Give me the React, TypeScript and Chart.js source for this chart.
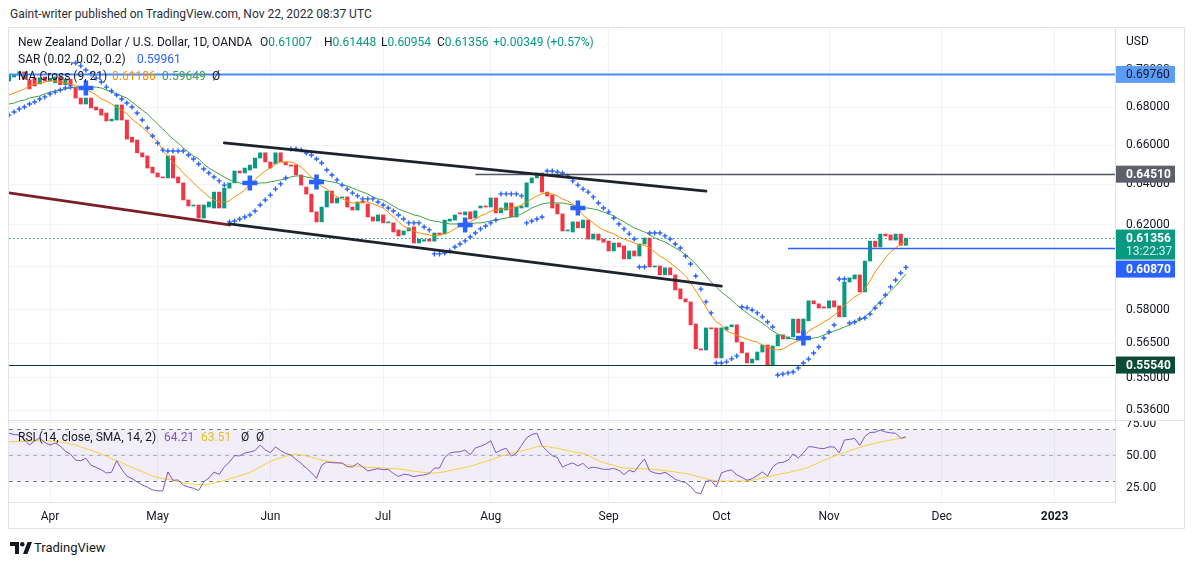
import React, { useEffect, useRef } from "react";
import { Chart, registerables } from "chart.js";

Chart.register(...registerables);

const FONT = "Roboto, 'Noto Sans', 'DejaVu Sans', sans-serif";
const TEXT = "#131722";
const GRID = "#f0f3fa";
const BORDER = "#e0e3eb";
const UP = "#089981";
const DOWN = "#f23645";

// Bar index 0 = 1 Apr 2022 (daily bars, weekdays). First visible bar = 22 Mar 2022.
const firstBar = -8;

const opens = [
  0.6940, 0.6962, 0.6972, 0.6990, 0.6946, 0.6957, 0.6924, 0.6962, 0.6940, 0.6930,
  0.6962, 0.6920, 0.6950, 0.6905, 0.6848, 0.6816, 0.6848, 0.6800, 0.6789, 0.6768,
  0.6726, 0.6731, 0.6811, 0.6731, 0.6641, 0.6626, 0.6560, 0.6544, 0.6487, 0.6457,
  0.6437, 0.6432, 0.6544, 0.6437, 0.6407, 0.6322, 0.6292, 0.6297, 0.6233, 0.6287,
  0.6282, 0.6361, 0.6282, 0.6381, 0.6407, 0.6467, 0.6457, 0.6472, 0.6482, 0.6533,
  0.6560, 0.6513, 0.6503, 0.6560, 0.6513, 0.6498, 0.6498, 0.6447, 0.6386, 0.6351,
  0.6263, 0.6214, 0.6287, 0.6366, 0.6307, 0.6332, 0.6337, 0.6287, 0.6272, 0.6317,
  0.6302, 0.6238, 0.6218, 0.6248, 0.6209, 0.6209, 0.6175, 0.6151, 0.6170, 0.6190,
  0.6112, 0.6121, 0.6131, 0.6121, 0.6160, 0.6155, 0.6218, 0.6223, 0.6258, 0.6248,
  0.6263, 0.6233, 0.6282, 0.6292, 0.6287, 0.6332, 0.6258, 0.6272, 0.6307, 0.6238,
  0.6282, 0.6287, 0.6407, 0.6432, 0.6457, 0.6361, 0.6346, 0.6302, 0.6253, 0.6170,
  0.6165, 0.6214, 0.6185, 0.6223, 0.6131, 0.6155, 0.6131, 0.6121, 0.6074, 0.6112,
  0.6098, 0.6036, 0.6074, 0.6050, 0.6107, 0.6136, 0.5998, 0.6003, 0.5961, 0.5994,
  0.5961, 0.5896, 0.5850, 0.5836, 0.5736, 0.5625, 0.5620, 0.5718, 0.5718, 0.5585,
  0.5709, 0.5723, 0.5732, 0.5655, 0.5607, 0.5563, 0.5576, 0.5611, 0.5642, 0.5554,
  0.5638, 0.5687, 0.5669, 0.5678, 0.5758, 0.5692, 0.5750, 0.5841, 0.5827, 0.5813,
  0.5808, 0.5841, 0.5818, 0.5768, 0.5928, 0.5942, 0.5961, 0.5882, 0.6026, 0.6121,
  0.6093, 0.6155, 0.6151, 0.6126, 0.6155, 0.61007,
];

const closes = [
  0.6975, 0.6972, 0.6990, 0.6950, 0.6897, 0.6913, 0.6957, 0.6940, 0.6955, 0.6962,
  0.6920, 0.6950, 0.6915, 0.6848, 0.6816, 0.6848, 0.6795, 0.6784, 0.6757, 0.6726,
  0.6736, 0.6811, 0.6731, 0.6631, 0.6615, 0.6560, 0.6539, 0.6482, 0.6457, 0.6437,
  0.6432, 0.6544, 0.6432, 0.6407, 0.6322, 0.6292, 0.6297, 0.6233, 0.6297, 0.6312,
  0.6361, 0.6282, 0.6381, 0.6407, 0.6467, 0.6457, 0.6482, 0.6497, 0.6533, 0.6560,
  0.6513, 0.6482, 0.6560, 0.6513, 0.6498, 0.6492, 0.6447, 0.6396, 0.6351, 0.6263,
  0.6214, 0.6287, 0.6366, 0.6307, 0.6332, 0.6337, 0.6287, 0.6272, 0.6312, 0.6307,
  0.6238, 0.6218, 0.6248, 0.6209, 0.6214, 0.6165, 0.6146, 0.6170, 0.6185, 0.6112,
  0.6131, 0.6128, 0.6121, 0.6160, 0.6151, 0.6223, 0.6228, 0.6248, 0.6253, 0.6263,
  0.6228, 0.6268, 0.6292, 0.6287, 0.6332, 0.6258, 0.6282, 0.6307, 0.6238, 0.6287,
  0.6292, 0.6407, 0.6432, 0.6457, 0.6361, 0.6341, 0.6282, 0.6253, 0.6170, 0.6175,
  0.6214, 0.6185, 0.6223, 0.6131, 0.6155, 0.6126, 0.6116, 0.6074, 0.6112, 0.6093,
  0.6036, 0.6074, 0.6050, 0.6107, 0.6136, 0.5998, 0.6003, 0.5961, 0.5994, 0.5961,
  0.5891, 0.5850, 0.5836, 0.5732, 0.5625, 0.5620, 0.5718, 0.5714, 0.5585, 0.5718,
  0.5723, 0.5732, 0.5655, 0.5607, 0.5563, 0.5580, 0.5611, 0.5642, 0.5554, 0.5638,
  0.5687, 0.5669, 0.5678, 0.5758, 0.5696, 0.5758, 0.5841, 0.5827, 0.5808, 0.5808,
  0.5841, 0.5813, 0.5768, 0.5928, 0.5947, 0.5961, 0.5882, 0.6026, 0.6121, 0.6093,
  0.6155, 0.6146, 0.6126, 0.6155, 0.6101, 0.61356,
];

const sar = [
  0.6757, 0.6773, 0.6789, 0.6800, 0.6816, 0.6827, 0.6843, 0.6854, 0.6870, 0.6880,
  0.6891, 0.6902, 0.6907, 0.7039, 0.7023, 0.7000, 0.6979, 0.6956, 0.6935, 0.6907,
  0.6886, 0.6864, 0.6843, 0.6821, 0.6800, 0.6768, 0.6731, 0.6689, 0.6647, 0.6611,
  0.6574, 0.6569, 0.6569, 0.6569, 0.6569, 0.6549, 0.6528, 0.6503, 0.6477, 0.6457,
  0.6437, 0.6417, 0.6396, 0.6214, 0.6218, 0.6228, 0.6238, 0.6248, 0.6267, 0.6297,
  0.6322, 0.6346, 0.6376, 0.6402, 0.6432, 0.6580, 0.6580, 0.6574, 0.6559, 0.6549,
  0.6528, 0.6508, 0.6472, 0.6447, 0.6422, 0.6396, 0.6376, 0.6356, 0.6342, 0.6327,
  0.6327, 0.6327, 0.6312, 0.6297, 0.6282, 0.6267, 0.6248, 0.6228, 0.6209, 0.6209,
  0.6209, 0.6189, 0.6175, 0.6060, 0.6060, 0.6064, 0.6074, 0.6093, 0.6107, 0.6122,
  0.6141, 0.6160, 0.6180, 0.6194, 0.6209, 0.6223, 0.6352, 0.6352, 0.6352, 0.6352,
  0.6342, 0.6209, 0.6218, 0.6228, 0.6238, 0.6467, 0.6467, 0.6462, 0.6457, 0.6442,
  0.6417, 0.6396, 0.6376, 0.6361, 0.6337, 0.6307, 0.6282, 0.6262, 0.6233, 0.6204,
  0.6180, 0.6156, 0.6131, 0.5998, 0.5998, 0.6160, 0.6160, 0.6160, 0.6146, 0.6131,
  0.6107, 0.6088, 0.6050, 0.6012, 0.5956, 0.5895, 0.5836, 0.5786, 0.5563, 0.5563,
  0.5568, 0.5581, 0.5594, 0.5813, 0.5809, 0.5799, 0.5786, 0.5768, 0.5745, 0.5722,
  0.5511, 0.5515, 0.5520, 0.5524, 0.5541, 0.5563, 0.5580, 0.5607, 0.5633, 0.5673,
  0.5700, 0.5731, 0.5942, 0.5942, 0.5740, 0.5745, 0.5758, 0.5763, 0.5781, 0.5808,
  0.5831, 0.5868, 0.5905, 0.5937, 0.5970, 0.59961,
];

const ma9 = [
  0.6864, 0.6875, 0.6886, 0.6897, 0.6913, 0.6924, 0.6929, 0.6935, 0.6940, 0.6940,
  0.6935, 0.6929, 0.6924, 0.6913, 0.6910, 0.6891, 0.6881, 0.6864, 0.6843, 0.6832,
  0.6816, 0.6800, 0.6784, 0.6763, 0.6736, 0.6715, 0.6694, 0.6668, 0.6647, 0.6616,
  0.6574, 0.6544, 0.6508, 0.6487, 0.6457, 0.6432, 0.6407, 0.6381, 0.6361, 0.6337,
  0.6322, 0.6312, 0.6312, 0.6317, 0.6337, 0.6352, 0.6371, 0.6402, 0.6422, 0.6447,
  0.6467, 0.6482, 0.6503, 0.6513, 0.6513, 0.6513, 0.6503, 0.6487, 0.6462, 0.6437,
  0.6412, 0.6391, 0.6376, 0.6356, 0.6337, 0.6327, 0.6317, 0.6307, 0.6307, 0.6312,
  0.6312, 0.6302, 0.6292, 0.6282, 0.6262, 0.6238, 0.6214, 0.6194, 0.6180, 0.6170,
  0.6160, 0.6156, 0.6151, 0.6146, 0.6151, 0.6156, 0.6165, 0.6180, 0.6194, 0.6209,
  0.6214, 0.6228, 0.6243, 0.6253, 0.6267, 0.6272, 0.6277, 0.6282, 0.6282, 0.6287,
  0.6297, 0.6312, 0.6327, 0.6342, 0.6352, 0.6356, 0.6352, 0.6342, 0.6327, 0.6317,
  0.6302, 0.6282, 0.6248, 0.6228, 0.6209, 0.6189, 0.6175, 0.6165, 0.6156, 0.6141,
  0.6131, 0.6122, 0.6112, 0.6102, 0.6102, 0.6088, 0.6069, 0.6050, 0.6036, 0.6017,
  0.5998, 0.5979, 0.5956, 0.5923, 0.5886, 0.5850, 0.5813, 0.5776, 0.5745, 0.5731,
  0.5704, 0.5695, 0.5686, 0.5677, 0.5668, 0.5660, 0.5655, 0.5642, 0.5633, 0.5624,
  0.5620, 0.5624, 0.5638, 0.5651, 0.5660, 0.5673, 0.5704, 0.5718, 0.5731, 0.5745,
  0.5758, 0.5776, 0.5795, 0.5818, 0.5840, 0.5859, 0.5872, 0.5895, 0.5933, 0.5975,
  0.6008, 0.6041, 0.6069, 0.6088, 0.6107, 0.61186,
];

const ma21 = [
  0.6816, 0.6821, 0.6832, 0.6837, 0.6848, 0.6854, 0.6859, 0.6870, 0.6880, 0.6886,
  0.6891, 0.6897, 0.6902, 0.6907, 0.6907, 0.6907, 0.6907, 0.6907, 0.6902, 0.6891,
  0.6880, 0.6870, 0.6859, 0.6848, 0.6827, 0.6805, 0.6784, 0.6763, 0.6736, 0.6710,
  0.6684, 0.6657, 0.6631, 0.6611, 0.6585, 0.6564, 0.6544, 0.6529, 0.6503, 0.6482,
  0.6467, 0.6452, 0.6437, 0.6422, 0.6412, 0.6407, 0.6402, 0.6402, 0.6402, 0.6407,
  0.6407, 0.6412, 0.6417, 0.6422, 0.6427, 0.6437, 0.6442, 0.6442, 0.6437, 0.6432,
  0.6427, 0.6422, 0.6417, 0.6412, 0.6407, 0.6397, 0.6391, 0.6381, 0.6371, 0.6361,
  0.6352, 0.6337, 0.6327, 0.6322, 0.6307, 0.6292, 0.6277, 0.6267, 0.6258, 0.6248,
  0.6243, 0.6233, 0.6223, 0.6218, 0.6214, 0.6209, 0.6204, 0.6204, 0.6204, 0.6204,
  0.6204, 0.6209, 0.6209, 0.6214, 0.6218, 0.6223, 0.6228, 0.6233, 0.6238, 0.6243,
  0.6253, 0.6267, 0.6282, 0.6292, 0.6302, 0.6307, 0.6307, 0.6307, 0.6307, 0.6302,
  0.6297, 0.6287, 0.6282, 0.6282, 0.6277, 0.6272, 0.6262, 0.6253, 0.6243, 0.6228,
  0.6214, 0.6199, 0.6185, 0.6175, 0.6165, 0.6151, 0.6136, 0.6126, 0.6117, 0.6102,
  0.6088, 0.6074, 0.6055, 0.6036, 0.6012, 0.5984, 0.5956, 0.5928, 0.5905, 0.5882,
  0.5863, 0.5845, 0.5822, 0.5804, 0.5786, 0.5768, 0.5754, 0.5740, 0.5722, 0.5704,
  0.5691, 0.5682, 0.5673, 0.5669, 0.5664, 0.5664, 0.5669, 0.5673, 0.5677, 0.5686,
  0.5695, 0.5704, 0.5713, 0.5722, 0.5731, 0.5745, 0.5754, 0.5768, 0.5786, 0.5813,
  0.5840, 0.5863, 0.5886, 0.5909, 0.5937, 0.59649,
];

const rsi = [
  67, 66, 65.6, 62, 57.8, 61, 63.3, 59.6, 57.8, 59.4,
  57, 53, 50.5, 46, 45.5, 47.5, 42, 40.3, 38.5, 35.9,
  36.5, 45.5, 38.8, 33.5, 31.5, 29, 26.6, 24.8, 22.8, 22,
  22, 36.7, 30.2, 30.5, 26.5, 25, 24, 22.2, 29, 32,
  36.7, 34.8, 40.5, 44.5, 49.5, 49.3, 51.5, 52.3, 53.5, 57.8,
  54, 51.8, 56.3, 53.5, 51.2, 50, 46.5, 43.5, 39.8, 36.2,
  31.8, 42, 44.5, 44, 43.8, 43.8, 41, 40.6, 43.5, 40.8,
  37.5, 38.5, 39.3, 38.5, 38.8, 35.5, 33.2, 35, 34.5, 33,
  34, 34.4, 35.5, 39.8, 39.8, 48, 51.5, 52.3, 52.5, 53.9,
  50.2, 55.5, 56.8, 58.5, 61.2, 51.8, 53.8, 55.3, 49.2, 51.5,
  57.5, 63.5, 66, 67, 57.3, 53, 49.5, 48, 40.5, 42.5,
  43.8, 41.5, 43.5, 39.5, 40.5, 39.8, 38.8, 38.8, 39.5, 38,
  34.6, 38, 36.8, 42.2, 46.9, 37.5, 36, 35.2, 36.5, 34,
  31, 29.5, 28.5, 25.3, 20.6, 19.8, 29.5, 30, 25, 36,
  37.5, 38.3, 34.6, 32.5, 30.3, 31.5, 34, 36.7, 33.6, 40.5,
  43.8, 44.2, 46, 50.8, 47.7, 51.6, 56.5, 56.2, 55.3, 55,
  56.3, 56.3, 51.6, 61.7, 62.2, 63, 57.5, 64.5, 67.6, 67.8,
  69.5, 68, 67.3, 67, 63, 64.21,
];

const rsiMa = [
  60.2, 60.4, 60.6, 60.7, 60.8, 60.9, 61, 61, 61, 60.8,
  60.3, 59.5, 58.6, 57.9, 56.3, 55, 53.8, 52.3, 50.6, 49,
  47, 45.6, 44, 42, 40.3, 38.6, 37, 35.3, 33.6, 32.6,
  31.5, 31, 30.3, 29.2, 28.3, 27.6, 27.2, 26.9, 26.6, 27.2,
  28.1, 29, 30, 31.3, 32.5, 33.8, 35.2, 36.2, 38.5, 40.8,
  43, 45, 46.5, 47.8, 49, 50, 50.8, 50, 49.2, 48.2,
  47.2, 46, 45.3, 44.8, 44.2, 43.2, 42.5, 41.8, 41.2, 40.6,
  40.4, 40.2, 40, 39.8, 39.6, 39.4, 39.1, 38.6, 38, 37.3,
  36.8, 36.4, 36.1, 35.9, 36.3, 36.9, 37.8, 38.6, 39.5, 40.3,
  41.2, 42.4, 43.8, 45, 46.1, 47.7, 49.2, 50.2, 51.4, 52.6,
  53.2, 54.1, 55.3, 56.5, 57, 56.6, 55.8, 55.2, 54.3, 53.5,
  52.6, 51.8, 51.5, 50, 47.5, 45.5, 44, 43, 42, 40.7,
  39.8, 39.6, 39.4, 39.3, 39.2, 39, 38.6, 38.3, 37.8, 37.3,
  36.8, 36.2, 35.6, 34.8, 33.6, 32.5, 31.5, 30.5, 29.8, 29.7,
  29.7, 29.7, 29.7, 29.7, 29.7, 30.2, 31, 32.2, 33, 33.8,
  34.8, 35.5, 36.2, 37.2, 38.3, 39.1, 40.5, 42.3, 44, 45.8,
  47.5, 49, 50.4, 51.8, 53.3, 54.7, 55.9, 57.1, 58.2, 59.2,
  60.1, 60.9, 61.7, 62.3, 63, 63.51,
];

// MA cross markers (bar index, price)
const crossBars = [7, 39, 52, 81, 103, 147];
const crossValues = [0.6902, 0.6407, 0.6412, 0.6199, 0.6282, 0.5673];

// Time axis
const monthBars = [0, 21, 43, 65, 86, 109, 131, 152, 174, 196];
const monthLabels = ["Apr", "May", "Jun", "Jul", "Aug", "Sep", "Oct", "Nov", "Dec", "2023"];
const lastAxisBar = 207.8;

// Price axis
const priceTicks = [0.7, 0.68, 0.66, 0.64, 0.62, 0.6, 0.58, 0.565, 0.55, 0.536];
const hiddenPriceTicks = [0.6];
const priceMin = 0.53197;
const priceMax = 0.72347;

// RSI axis
const rsiTicks = [25, 50, 75];
const rsiLevels = [70, 50, 30];
const rsiMin = 13.28;
const rsiMax = 76.5625;

// Drawings
const lastPrice = 0.61356;
const countdown = "13:22:37";
const levelPrices = [0.6976, 0.6451, 0.6087, 0.5554];
const levelFromBars = [-8, 83, 144, -8];
const trendFromBars = [-8, 34, 35];
const trendFromPrices = [0.6357, 0.6611, 0.6204];
const trendToBars = [35, 128, 131];
const trendToPrices = [0.6199, 0.6366, 0.5909];

// Price tags on the axis
const tagPrices = [0.6976, 0.6451, 0.61356, 0.6087, 0.5554];
const tagSubTexts = ["", "", countdown, "", ""];

// styles
const levelColors = ["#4a8cf7", "#50535e", "#2962ff", "#0e3b2e"];
const levelWidths = [2, 1.5, 1.5, 1.2];
const trendColors = ["#7b1e26", "#1e222d", "#1e222d"];
const tagBg = ["#5b9cf6", "#5d606b", "#089981", "#2962ff", "#0b4a37"];
const tagFg = ["#131722", "#ffffff", "#ffffff", "#ffffff", "#ffffff"];
const tagHeights = [17, 17, 30, 17, 17];

const T = ({ x, y, color = TEXT, size = 12, weight = 400, children }: any) => (
  <span
    style={{
      position: "absolute",
      left: x,
      top: y - 8,
      lineHeight: "16px",
      fontSize: size,
      fontWeight: weight,
      color,
      whiteSpace: "nowrap",
      fontFamily: FONT,
    }}
  >
    {children}
  </span>
);

export default function App() {
  const mainRef = useRef<HTMLCanvasElement | null>(null);
  const rsiRef = useRef<HTMLCanvasElement | null>(null);

  useEffect(() => {
    const barX = opens.map((_, i) => firstBar + i);
    const setMonthTicks = (s: any) => {
      s.ticks = monthBars.map((v) => ({ value: v }));
    };
    const noPad = (s: any) => {
      s.paddingTop = 0;
      s.paddingBottom = 0;
      s.paddingLeft = 0;
      s.paddingRight = 0;
    };
    const tickFont = { family: FONT, size: 12 };

    const overlay = {
      id: "tvOverlay",
      afterDatasetsDraw(chart: any) {
        const { ctx, chartArea: a, scales } = chart;
        const xs = scales.x;
        const ys = scales.y;
        const px = (b: number) => xs.getPixelForValue(b);
        const py = (p: number) => ys.getPixelForValue(p);
        ctx.save();
        ctx.beginPath();
        ctx.rect(a.left, a.top, a.width, a.height);
        ctx.clip();
        // last price dotted line
        ctx.setLineDash([1.5, 2.5]);
        ctx.strokeStyle = UP;
        ctx.lineWidth = 1.2;
        ctx.beginPath();
        ctx.moveTo(a.left, Math.round(py(lastPrice)) + 0.5);
        ctx.lineTo(a.right, Math.round(py(lastPrice)) + 0.5);
        ctx.stroke();
        ctx.setLineDash([]);
        // horizontal levels
        levelPrices.forEach((p, i) => {
          ctx.strokeStyle = levelColors[i];
          ctx.lineWidth = levelWidths[i];
          const yy = Math.round(py(p)) + 0.5;
          ctx.beginPath();
          ctx.moveTo(px(levelFromBars[i]), yy);
          ctx.lineTo(a.right, yy);
          ctx.stroke();
        });
        // trend lines
        ctx.lineCap = "round";
        trendFromBars.forEach((b, i) => {
          ctx.strokeStyle = trendColors[i];
          ctx.lineWidth = 2.8;
          ctx.beginPath();
          ctx.moveTo(px(b), py(trendFromPrices[i]));
          ctx.lineTo(px(trendToBars[i]), py(trendToPrices[i]));
          ctx.stroke();
        });
        ctx.restore();
      },
      afterDraw(chart: any) {
        const { ctx, chartArea: a, scales } = chart;
        const ys = scales.y;
        const left = a.right + 1;
        const w = 59;
        const tags = tagPrices.map((p, i) => ({ i, yc: ys.getPixelForValue(p) }));
        tags.sort((m, n) => m.yc - n.yc);
        let prevBottom = -1000;
        ctx.save();
        ctx.textBaseline = "middle";
        ctx.textAlign = "left";
        tags.forEach((t) => {
          let top = t.yc - 8.5;
          if (top < prevBottom + 1) top = prevBottom + 1;
          const h = tagHeights[t.i];
          prevBottom = top + h;
          ctx.fillStyle = tagBg[t.i];
          ctx.fillRect(left, top, w, h);
          ctx.fillStyle = tagFg[t.i];
          ctx.font = `${t.i === 0 ? 400 : 700} 12px ${FONT}`;
          ctx.fillText(tagPrices[t.i].toFixed(5), left + 10, top + 9);
          if (tagSubTexts[t.i]) {
            ctx.font = `400 12px ${FONT}`;
            ctx.fillStyle = "rgba(255,255,255,0.85)";
            ctx.fillText(tagSubTexts[t.i], left + 10, top + 22.5);
          }
        });
        ctx.restore();
      },
    };

    const rsiBandPlugin = {
      id: "rsiBands",
      beforeDatasetsDraw(chart: any) {
        const { ctx, chartArea: a, scales } = chart;
        const ys = scales.y;
        const yTop = ys.getPixelForValue(rsiLevels[0]);
        const yBot = ys.getPixelForValue(rsiLevels[2]);
        ctx.save();
        ctx.fillStyle = "rgba(126,87,194,0.1)";
        ctx.fillRect(a.left, yTop, a.width, yBot - yTop);
        ctx.setLineDash([4, 4]);
        ctx.lineWidth = 1;
        rsiLevels.forEach((v, i) => {
          ctx.strokeStyle = i === 1 ? "rgba(120,123,134,0.55)" : "#787b86";
          const yy = Math.round(ys.getPixelForValue(v)) + 0.5;
          ctx.beginPath();
          ctx.moveTo(a.left, yy);
          ctx.lineTo(a.right, yy);
          ctx.stroke();
        });
        ctx.restore();
      },
    };

    const main = new Chart(mainRef.current as HTMLCanvasElement, {
      type: "bar",
      data: {
        datasets: [
          {
            type: "line",
            data: crossBars.map((b, i) => ({ x: b, y: crossValues[i] })),
            showLine: false,
            pointStyle: "cross",
            pointRadius: 7.5,
            pointBorderWidth: 4.5,
            pointBorderColor: "#2962ff",
            pointBackgroundColor: "#2962ff",
            order: 0,
          },
          {
            type: "line",
            data: barX.map((x, i) => ({ x, y: sar[i] })),
            showLine: false,
            pointStyle: "cross",
            pointRadius: 2.5,
            pointBorderWidth: 1.4,
            pointBorderColor: "#2962ff",
            order: 1,
          },
          {
            type: "line",
            data: barX.map((x, i) => ({ x, y: ma9[i] })),
            borderColor: "#fb8c00",
            borderWidth: 1,
            pointRadius: 0,
            order: 2,
          },
          {
            type: "line",
            data: barX.map((x, i) => ({ x, y: ma21[i] })),
            borderColor: "#43a047",
            borderWidth: 1,
            pointRadius: 0,
            order: 3,
          },
          {
            type: "bar",
            data: barX.map((x, i) => ({ x, y: [opens[i], closes[i]] })),
            backgroundColor: barX.map((_, i) => (closes[i] >= opens[i] ? UP : DOWN)),
            barThickness: 3.4,
            minBarLength: 1,
            borderWidth: 0,
            order: 4,
          },
        ],
      } as any,
      options: {
        responsive: false,
        animation: false,
        devicePixelRatio: 1,
        events: [],
        layout: { padding: 0, autoPadding: false },
        plugins: { legend: { display: false }, tooltip: { enabled: false } },
        scales: {
          x: {
            type: "linear",
            min: firstBar,
            max: lastAxisBar,
            bounds: "data",
            offset: false,
            afterBuildTicks: setMonthTicks,
            ticks: { display: false },
            grid: { color: GRID, drawTicks: false, offset: false },
            border: { display: false },
            afterFit: (s: any) => {
              s.height = 0;
              noPad(s);
            },
          },
          y: {
            type: "logarithmic",
            position: "right",
            min: priceMin,
            max: priceMax,
            bounds: "data",
            afterBuildTicks: (s: any) => {
              s.ticks = priceTicks.map((v) => ({ value: v }));
            },
            ticks: {
              callback: (v: any) => (hiddenPriceTicks.includes(v) ? "" : Number(v).toFixed(5)),
              color: TEXT,
              font: tickFont,
              padding: 11,
              autoSkip: false,
            },
            grid: { color: GRID, drawTicks: false },
            border: { display: true, color: BORDER },
            afterFit: (s: any) => {
              s.width = 69;
              noPad(s);
            },
          },
        },
      } as any,
      plugins: [overlay],
    });

    const rsiChart = new Chart(rsiRef.current as HTMLCanvasElement, {
      type: "line",
      data: {
        datasets: [
          {
            data: barX.map((x, i) => ({ x, y: rsiMa[i] })),
            borderColor: "#f5d03b",
            borderWidth: 1,
            pointRadius: 0,
            order: 1,
          },
          {
            data: barX.map((x, i) => ({ x, y: rsi[i] })),
            borderColor: "#7e57c2",
            borderWidth: 1,
            pointRadius: 0,
            order: 0,
          },
        ],
      } as any,
      options: {
        responsive: false,
        animation: false,
        devicePixelRatio: 1,
        events: [],
        layout: { padding: 0, autoPadding: false },
        plugins: { legend: { display: false }, tooltip: { enabled: false } },
        scales: {
          x: {
            type: "linear",
            min: firstBar,
            max: lastAxisBar,
            bounds: "data",
            offset: false,
            afterBuildTicks: setMonthTicks,
            ticks: {
              callback: (v: any) => {
                const k = monthBars.indexOf(v);
                return k >= 0 ? monthLabels[k] : "";
              },
              autoSkip: false,
              maxRotation: 0,
              padding: 8,
              color: TEXT,
              font: (c: any) => ({
                family: FONT,
                size: 12,
                weight: c.tick && c.tick.value === monthBars[monthBars.length - 1] ? "bold" : "normal",
              }),
            },
            grid: { color: GRID, drawTicks: false },
            border: { display: true, color: BORDER },
            afterFit: (s: any) => {
              s.height = 26;
              noPad(s);
            },
          },
          y: {
            type: "linear",
            position: "right",
            min: rsiMin,
            max: rsiMax,
            bounds: "data",
            afterBuildTicks: (s: any) => {
              s.ticks = rsiTicks.map((v) => ({ value: v }));
            },
            ticks: {
              callback: (v: any) => Number(v).toFixed(2),
              color: TEXT,
              font: tickFont,
              padding: 11,
              labelOffset: 1.5,
            },
            grid: { color: GRID, drawTicks: false },
            border: { display: true, color: BORDER },
            afterFit: (s: any) => {
              s.width = 69;
              noPad(s);
            },
          },
        },
      } as any,
      plugins: [rsiBandPlugin],
    });

    return () => {
      main.destroy();
      rsiChart.destroy();
    };
  }, []);

  return (
    <div
      style={{
        position: "absolute",
        left: 0,
        top: 0,
        width: 1194,
        height: 565,
        background: "#ffffff",
        overflow: "hidden",
        fontFamily: FONT,
      }}
    >
      <T x={10} y={14} color="#2a2e39">
        Gaint-writer published on TradingView.com, Nov 22, 2022 08:37 UTC
      </T>
      <div
        style={{
          position: "absolute",
          left: 8,
          top: 27,
          width: 1177,
          height: 502,
          border: `1px solid ${BORDER}`,
          boxSizing: "border-box",
        }}
      />
      <canvas
        ref={mainRef}
        width={1175}
        height={392}
        style={{ position: "absolute", left: 9, top: 28, width: 1175, height: 392 }}
      />
      <div style={{ position: "absolute", left: 9, top: 420, width: 1175, height: 1, background: BORDER }} />
      <canvas
        ref={rsiRef}
        width={1175}
        height={107}
        style={{ position: "absolute", left: 9, top: 421, width: 1175, height: 107 }}
      />

      {/* legends */}
      <T x={18} y={42}>New Zealand Dollar / U.S. Dollar, 1D, OANDA</T>
      <T x={260} y={42}>O<span style={{ color: UP }}>0.61007</span></T>
      <T x={324} y={42}>H<span style={{ color: UP }}>0.61448</span></T>
      <T x={381} y={42}>L<span style={{ color: UP }}>0.60954</span></T>
      <T x={437} y={42}>C<span style={{ color: UP }}>0.61356</span></T>
      <T x={493} y={42} color={UP}>+0.00349 (+0.57%)</T>
      <T x={18} y={59}>SAR (0.02, 0.02, 0.2)</T>
      <T x={137} y={59} color="#2962ff">0.59961</T>
      <T x={18} y={76}>MA Cross (9, 21)</T>
      <T x={112} y={76} color="#fb8c00">0.61186</T>
      <T x={162} y={76} color="#43a047">0.59649</T>
      <T x={212} y={76}>Ø</T>
      <T x={18} y={437}>RSI (14, close, SMA, 14, 2)</T>
      <T x={164} y={437} color="#7e57c2">64.21</T>
      <T x={201} y={437} color="#e8c21c">63.51</T>
      <T x={241} y={437}>Ø</T>
      <T x={256} y={437}>Ø</T>
      <T x={1126} y={41}>USD</T>

      {/* footer */}
      <svg
        width={22}
        height={12}
        viewBox="0 0 22 12"
        style={{ position: "absolute", left: 10, top: 542 }}
      >
        <path d="M0 0 H9 V12 H5 V4 H0 Z" fill="#131722" />
        <circle cx={12.3} cy={2.2} r={2.2} fill="#131722" />
        <path d="M13 12 L17.6 0 H22 L17.4 12 Z" fill="#131722" />
      </svg>
      <T x={34} y={548} size={13}>TradingView</T>
    </div>
  );
}
